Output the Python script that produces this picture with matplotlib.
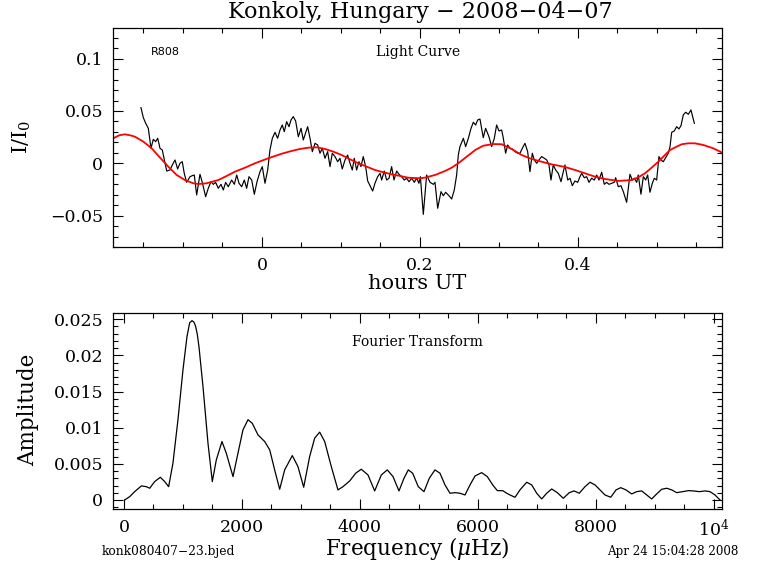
import matplotlib
matplotlib.use("Agg")
import matplotlib.pyplot as plt
from matplotlib.ticker import MultipleLocator, FuncFormatter, FixedLocator

plt.rcParams['font.family'] = ['DejaVu Serif']
plt.rcParams['mathtext.fontset'] = 'dejavuserif'

# ---------------- data ----------------
lc_hours = [-0.1532, -0.1502, -0.1472, -0.1439, -0.1405, -0.1376, -0.1346, -0.1320, -0.1291, -0.1262,
            -0.1236, -0.1206, -0.1165, -0.1135, -0.1101, -0.1068, -0.1038, -0.1009, -0.0984, -0.0954,
            -0.0911, -0.0882, -0.0857, -0.0827, -0.0785, -0.0756, -0.0713, -0.0680, -0.0646, -0.0616,
            -0.0587, -0.0553, -0.0519, -0.0490, -0.0460, -0.0427, -0.0384, -0.0350, -0.0320, -0.0291,
            -0.0257, -0.0224, -0.0194, -0.0165, -0.0130, -0.0097, -0.0063, -0.0025, 0.0004, 0.0038,
            0.0072, 0.0101, 0.0131, 0.0165,
            0.0198, 0.0228, 0.0257, 0.0282, 0.0312, 0.0342, 0.0367, 0.0396, 0.0426, 0.0460,
            0.0494, 0.0523, 0.0578, 0.0608, 0.0637, 0.0671, 0.0705, 0.0734, 0.0764, 0.0797,
            0.0831, 0.0861, 0.0890, 0.0924, 0.0958, 0.0987, 0.1016, 0.1051, 0.1084, 0.1114,
            0.1143, 0.1168, 0.1198, 0.1228, 0.1253, 0.1282, 0.1312, 0.1338, 0.1367, 0.1401,
            0.1430, 0.1464, 0.1494, 0.1515, 0.1548, 0.1578, 0.1608, 0.1641, 0.1671, 0.1705,
            0.1734, 0.1768, 0.1801, 0.1831, 0.1861, 0.1895, 0.1928, 0.1958, 0.1987,
            0.2005, 0.2042, 0.2084, 0.2127, 0.2169, 0.2190, 0.2224, 0.2266, 0.2295, 0.2325,
            0.2367, 0.2401, 0.2434, 0.2464, 0.2485, 0.2506, 0.2549, 0.2578, 0.2612, 0.2646,
            0.2675, 0.2705, 0.2730, 0.2759, 0.2801, 0.2831, 0.2873, 0.2907, 0.2941, 0.2970,
            0.3000, 0.3034, 0.3055, 0.3084, 0.3110, 0.3139, 0.3168, 0.3203, 0.3236, 0.3266,
            0.3295, 0.3329, 0.3363, 0.3392, 0.3422, 0.3447, 0.3477, 0.3506, 0.3540, 0.3574,
            0.3604, 0.3633, 0.3658, 0.3687, 0.3717, 0.3751,
            0.3785, 0.3814, 0.3835, 0.3870, 0.3899, 0.3928, 0.3962, 0.3996, 0.4025, 0.4047,
            0.4080, 0.4110, 0.4139, 0.4173, 0.4206, 0.4237, 0.4266, 0.4300, 0.4333, 0.4363,
            0.4392, 0.4426, 0.4459, 0.4477, 0.4510, 0.4544, 0.4574, 0.4616, 0.4658, 0.4688,
            0.4713, 0.4743, 0.4763, 0.4797, 0.4827, 0.4857, 0.4882, 0.4911, 0.4941, 0.4966,
            0.4996, 0.5025, 0.5051, 0.5080, 0.5110, 0.5143, 0.5165, 0.5186, 0.5219, 0.5249,
            0.5278, 0.5304, 0.5333, 0.5363, 0.5397, 0.5430, 0.5473]

lc_flux = [0.0532, 0.0436, 0.0382, 0.0334, 0.0143, 0.0229, 0.0207, 0.0239, 0.0143, 0.0127,
           0.0032, -0.0074, -0.0064, -0.0016, 0.0032, -0.0054, 0.0000, 0.0015, -0.0096, -0.0182,
           -0.0128, -0.0118, -0.0112, -0.0303, -0.0105, -0.0182, -0.0319, -0.0239, -0.0176, -0.0201,
           -0.0182, -0.0239, -0.0201, -0.0255, -0.0182, -0.0224, -0.0160, -0.0201, -0.0112, -0.0191,
           -0.0224, -0.0160, -0.0239, -0.0128, -0.0160, -0.0296, -0.0176, -0.0080, -0.0032, -0.0191,
           -0.0064, 0.0127, 0.0239, 0.0296,
           0.0239, 0.0318, 0.0366, 0.0302, 0.0398, 0.0350, 0.0414, 0.0446, 0.0404, 0.0254,
           0.0334, 0.0223, 0.0350, 0.0239, 0.0111, 0.0191, 0.0175, 0.0096, 0.0143, 0.0048,
           0.0111, -0.0032, 0.0096, 0.0064, 0.0015, 0.0048, -0.0054, 0.0032, 0.0079, 0.0000,
           -0.0064, 0.0048, -0.0064, 0.0015, -0.0032, 0.0064, -0.0032, -0.0169, -0.0214, -0.0265,
           -0.0191, -0.0128, -0.0096, -0.0160, -0.0074, -0.0160, -0.0143, -0.0032, -0.0160, -0.0074,
           -0.0105, -0.0128, -0.0160, -0.0143, -0.0176, -0.0143, -0.0182, -0.0143, -0.0191,
           -0.0128, -0.0488, -0.0112, -0.0182, -0.0201, -0.0182, -0.0430, -0.0271, -0.0310, -0.0277,
           -0.0310, -0.0341, -0.0255, -0.0112, 0.0079, 0.0159, 0.0239, 0.0159, 0.0239, 0.0334,
           0.0392, 0.0366, 0.0414, 0.0423, 0.0245, 0.0334, 0.0254, 0.0159, 0.0239, 0.0366,
           0.0309, 0.0318, 0.0239, 0.0096, 0.0175, 0.0143, 0.0137, 0.0111, 0.0096, 0.0096,
           0.0143, 0.0191, 0.0111, -0.0080, 0.0096, 0.0032, 0.0000, 0.0032, 0.0064, 0.0048,
           0.0032, -0.0016, -0.0160, -0.0016, -0.0064, -0.0096,
           -0.0176, -0.0080, -0.0016, -0.0160, -0.0143, -0.0214, -0.0169, -0.0182, -0.0128, -0.0096,
           -0.0138, -0.0128, -0.0182, -0.0143, -0.0160, -0.0112, -0.0160, -0.0086, -0.0201, -0.0182,
           -0.0201, -0.0191, -0.0182, -0.0138, -0.0224, -0.0214, -0.0271, -0.0373, -0.0105, -0.0160,
           -0.0143, -0.0182, -0.0112, -0.0296, -0.0128, -0.0160, -0.0112, -0.0277, -0.0191, -0.0143,
           -0.0160, 0.0064, 0.0032, 0.0015, 0.0054, 0.0096, 0.0159, 0.0296, 0.0309, 0.0350,
           0.0328, 0.0360, 0.0462, 0.0488, 0.0468, 0.0510, 0.0382]

fit_hours = [-0.1882, -0.1806, -0.1734, -0.1650, -0.1608, -0.1502, -0.1396, -0.1291, -0.1186, -0.1080,
             -0.0975, -0.0870, -0.0806, -0.0700, -0.0553, -0.0447, -0.0342, -0.0215, -0.0089, 0.0080,
             0.0228, 0.0270, 0.0376, 0.0481, 0.0586, 0.0692, 0.0797, 0.0903, 0.1009, 0.1114,
             0.1219, 0.1325, 0.1430, 0.1536, 0.1641, 0.1747, 0.1852, 0.2000, 0.2063, 0.2190,
             0.2316, 0.2401, 0.2485, 0.2591, 0.2700, 0.2801, 0.2928, 0.3034, 0.3161, 0.3287,
             0.3414, 0.3540, 0.3667, 0.3835, 0.3962, 0.4089, 0.4215, 0.4342, 0.4510, 0.4680,
             0.4763, 0.4848, 0.4932, 0.5017, 0.5101, 0.5165, 0.5249, 0.5313, 0.5397, 0.5480,
             0.5586, 0.5713, 0.5827]
fit_flux = [0.0239, 0.0268, 0.0277, 0.0264, 0.0254, 0.0207, 0.0143, 0.0054, -0.0032, -0.0112,
            -0.0160, -0.0191, -0.0198, -0.0191, -0.0160, -0.0121, -0.0080, -0.0042, 0.0000, 0.0048,
            0.0086, 0.0096, 0.0118, 0.0137, 0.0149, 0.0153, 0.0137, 0.0111, 0.0079, 0.0038,
            0.0000, -0.0032, -0.0064, -0.0086, -0.0105, -0.0121, -0.0138, -0.0143, -0.0137, -0.0112,
            -0.0074, -0.0042, 0.0000, 0.0063, 0.0127, 0.0168, 0.0184, 0.0182, 0.0137, 0.0079,
            0.0041, 0.0015, -0.0010, -0.0035, -0.0064, -0.0096, -0.0128, -0.0150, -0.0169, -0.0160,
            -0.0134, -0.0096, -0.0042, 0.0015, 0.0079, 0.0127, 0.0159, 0.0182, 0.0191, 0.0191,
            0.0175, 0.0143, 0.0101]

ft_freq = [12, 97, 181, 294, 378, 436, 520, 616, 690, 757,
           830, 915, 1000, 1068, 1113, 1153, 1186, 1215, 1243, 1271, 1339, 1424, 1497,
           1565, 1661, 1734, 1848, 1932, 2017, 2102, 2175, 2271, 2385,
           2470, 2554, 2639, 2724, 2853, 2949, 3046, 3147, 3232, 3317,
           3402, 3514, 3627, 3712, 3826, 3927, 4022, 4136, 4249, 4362,
           4463, 4560, 4661,
           4746, 4819, 4893, 4988, 5085, 5175, 5271, 5356, 5441, 5526,
           5611, 5695, 5780, 5865, 5950, 6063, 6158, 6250, 6328, 6419,
           6487, 6543, 6628, 6712, 6826, 6911, 6995, 7080, 7165, 7250,
           7345, 7446, 7548, 7628, 7717, 7814, 7899, 7984, 8068, 8153,
           8250, 8340, 8419, 8509, 8605, 8690, 8775, 8860, 8944, 9029,
           9114, 9199, 9284, 9368, 9470, 9565, 9650, 9752, 9848, 9933,
           10017, 10102]
ft_amp = [0.0, 0.00046, 0.00115, 0.00194, 0.00184, 0.00162, 0.00254, 0.00314, 0.00254, 0.00184,
          0.00508, 0.0111, 0.0180, 0.0226, 0.0245, 0.0248, 0.0246, 0.0240, 0.0229, 0.0212, 0.0157, 0.00785, 0.00254,
          0.00554, 0.00808, 0.00647, 0.00323, 0.00647, 0.00970, 0.0111, 0.0106, 0.0090, 0.00808,
          0.00693, 0.00416, 0.00148, 0.00416, 0.00614, 0.00461, 0.00176, 0.0060, 0.00855, 0.00938,
          0.00808, 0.00461, 0.00139, 0.00184, 0.00263, 0.0037, 0.00425, 0.00346, 0.00125, 0.00346,
          0.00416, 0.00323, 0.00125,
          0.0030, 0.00416, 0.0037, 0.00184, 0.00115, 0.0030, 0.00416, 0.0037, 0.00208, 0.00093,
          0.00101, 0.00093, 0.00069, 0.00208, 0.00332, 0.00378, 0.00323, 0.00208, 0.00129, 0.00129,
          0.00093, 0.00069, 0.00037, 0.00139, 0.00245, 0.00208, 0.00093, 0.00014, 0.00093, 0.00152,
          0.00101, 0.00023, 0.00101, 0.00125, 0.00093, 0.00184, 0.00245, 0.00208, 0.00139, 0.00069,
          0.00037, 0.00139, 0.0017, 0.00139, 0.00083, 0.00115, 0.00125, 0.00069, 0.00014, 0.00083,
          0.00148, 0.00162, 0.00139, 0.00101, 0.00115, 0.00129, 0.00125, 0.00115, 0.00125, 0.00115,
          0.00069, 0.0]

top_xticks = [0.0, 0.2, 0.4]
top_yticks = [-0.05, 0.0, 0.05, 0.1]
bot_xticks = [0, 2000, 4000, 6000, 8000, 10000]
bot_yticks = [0, 0.005, 0.01, 0.015, 0.02, 0.025]

W, H = 768, 574
fig = plt.figure(figsize=(W / 100, H / 100), dpi=100)


def frac(x0, y0, x1, y1):
    return [x0 / W, 1 - y1 / H, (x1 - x0) / W, (y1 - y0) / H]


def style(ax):
    ax.tick_params(which='both', direction='in', top=True, right=True, width=0.8,
                   labelsize=12.5, pad=7)
    ax.tick_params(which='major', length=7)
    ax.tick_params(which='minor', length=3.6)
    for s in ax.spines.values():
        s.set_linewidth(0.9)


def numfmt(v, pos):
    if abs(v) < 1e-12:
        return '0'
    return ('%g' % v).replace('-', '\u2212')


# ---------------- top: light curve ----------------
ax1 = fig.add_axes(frac(113, 28, 722, 247))
ax1.plot(lc_hours, lc_flux, color='black', lw=0.85)
ax1.plot(fit_hours, fit_flux, color='#ff0000', lw=1.3)
ax1.set_xlim(-0.1886, 0.5823)
ax1.set_ylim(-0.080, 0.1293)
ax1.xaxis.set_major_locator(FixedLocator(top_xticks))
ax1.xaxis.set_minor_locator(MultipleLocator(0.05))
ax1.yaxis.set_major_locator(FixedLocator(top_yticks))
ax1.yaxis.set_minor_locator(MultipleLocator(0.01))
ax1.xaxis.set_major_formatter(FuncFormatter(numfmt))
ax1.yaxis.set_major_formatter(FuncFormatter(numfmt))
style(ax1)

# ---------------- bottom: Fourier transform ----------------
ax2 = fig.add_axes(frac(113, 312.7, 722, 509))
ax2.plot(ft_freq, ft_amp, color='black', lw=0.9)
ax2.set_xlim(-186, 10136)
ax2.set_ylim(-0.00125, 0.0259)
ax2.xaxis.set_major_locator(FixedLocator(bot_xticks))
ax2.xaxis.set_minor_locator(MultipleLocator(500))
ax2.yaxis.set_major_locator(FixedLocator(bot_yticks))
ax2.yaxis.set_minor_locator(MultipleLocator(0.001))


def xfmt2(v, pos):
    if abs(v - 10000) < 1e-6:
        return r'$10^4$'
    return '%d' % v


ax2.xaxis.set_major_formatter(FuncFormatter(xfmt2))
ax2.yaxis.set_major_formatter(FuncFormatter(numfmt))
style(ax2)

# ---------------- texts ----------------
def ftext(x, y, s, **kw):
    fig.text(x / W, 1 - y / H, s, **kw)


ftext(420, 12, 'Konkoly, Hungary \u2212 2008\u221204\u221207', ha='center', va='center', fontsize=16)
ftext(165, 52, 'R808', ha='center', va='center', fontsize=8, family='DejaVu Sans')
ftext(418, 52, 'Light Curve', ha='center', va='center', fontsize=10)
ftext(417, 284, 'hours UT', ha='center', va='center', fontsize=15)
ftext(22, 137, r'I/I$_0$', ha='center', va='center', fontsize=15, rotation=90)
ftext(417, 342, 'Fourier Transform', ha='center', va='center', fontsize=10)
ftext(28, 410, 'Amplitude', ha='center', va='center', fontsize=15.5, rotation=90)
ftext(417, 549, r'Frequency ($\mu$Hz)', ha='center', va='center', fontsize=15.5)
ftext(102, 551, 'konk080407\u221223.bjed', ha='left', va='center', fontsize=8.8)
ftext(738, 551, 'Apr 24 15:04:28 2008', ha='right', va='center', fontsize=8.6)

fig.savefig('out.png', dpi=100)
